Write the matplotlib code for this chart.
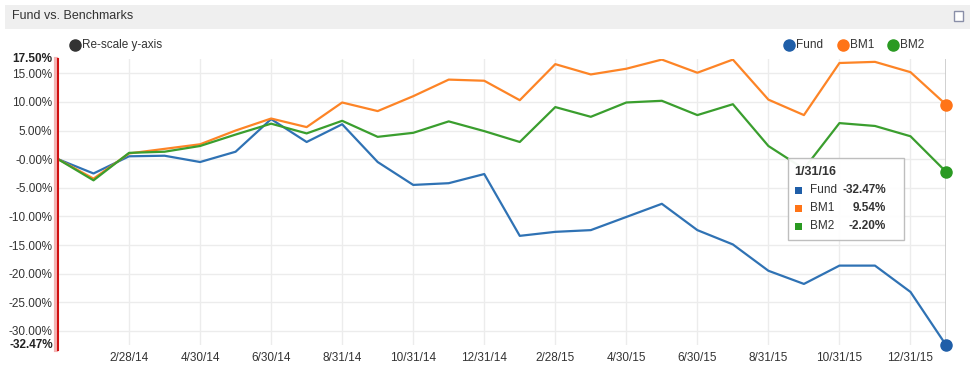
import matplotlib
matplotlib.use("Agg")
import matplotlib.pyplot as plt
from matplotlib.patches import Rectangle

plt.rcParams['font.family'] = ['Liberation Sans', 'DejaVu Sans']

dates = ['12/31/13', '1/31/14', '2/28/14', '3/31/14', '4/30/14', '5/31/14', '6/30/14',
         '7/31/14', '8/31/14', '9/30/14', '10/31/14', '11/30/14', '12/31/14',
         '1/31/15', '2/28/15', '3/31/15', '4/30/15', '5/31/15', '6/30/15',
         '7/31/15', '8/31/15', '9/30/15', '10/31/15', '11/30/15', '12/31/15', '1/31/16']
fund = [0.0, -2.5, 0.5, 0.6, -0.5, 1.3, 7.0, 3.0, 6.1, -0.5, -4.5, -4.2, -2.6,
        -13.4, -12.7, -12.4, -10.1, -7.8, -12.4, -14.9, -19.5, -21.8, -18.6, -18.6,
        -23.2, -32.47]
bm1 = [0.0, -3.4, 1.0, 1.8, 2.6, 5.0, 7.1, 5.6, 9.9, 8.4, 11.0, 13.9, 13.7,
       10.3, 16.6, 14.8, 15.8, 17.4, 15.1, 17.4, 10.4, 7.7, 16.8, 17.0, 15.2, 9.54]
bm2 = [0.0, -3.7, 1.1, 1.3, 2.3, 4.3, 6.2, 4.5, 6.7, 3.9, 4.6, 6.6, 4.9,
       3.0, 9.1, 7.4, 9.9, 10.2, 7.7, 9.6, 2.3, -1.7, 6.3, 5.8, 4.0, -2.20]
series = [('Fund', fund, '#2f72b4', '#1f5ea8'),
          ('BM1', bm1, '#fd8426', '#ff7417'),
          ('BM2', bm2, '#3a9e2e', '#2a9a22')]
y_ticks = [15, 10, 5, 0, -5, -10, -15, -20, -25, -30]
y_min, y_max = -32.47, 17.5

W, H = 975, 365
fig = plt.figure(figsize=(W / 100, H / 100), dpi=100)

def fx(px):
    return px / W

def fy(py):
    return 1 - py / H

# header bar
fig.patches.append(Rectangle((fx(5), fy(29)), fx(965), 24 / H, transform=fig.transFigure,
                             facecolor='#efefef', edgecolor='none'))
fig.text(fx(12), fy(16), 'Fund vs. Benchmarks', fontsize=9, color='#333333', va='center')
fig.patches.append(Rectangle((fx(954), fy(21)), fx(9), 10 / H, transform=fig.transFigure,
                             facecolor='white', edgecolor='#8a8fa8', lw=1))

ax = fig.add_axes([fx(58), fy(345), fx(946 - 58), (345 - 59) / H])
x = list(range(len(dates)))
for name, vals, lc, mc in series:
    ax.plot(x, vals, color=lc, lw=1.6, zorder=3)
    ax.plot(x[-1], vals[-1], 'o', color=mc, ms=8, zorder=4, clip_on=False)

ax.set_xlim(0, len(dates) - 1)
ax.set_ylim(y_min, y_max)
ax.set_yticks(y_ticks)
ax.set_yticklabels(['-0.00%' if v == 0 else '%.2f%%' % v for v in y_ticks])
xt = list(range(2, len(dates) - 1, 2))
ax.set_xticks(xt)
ax.set_xticklabels([dates[i] for i in xt])
ax.tick_params(length=0, labelsize=8.5, colors='#333333', pad=5)
ax.tick_params(axis='y', pad=4)
ax.grid(True, color='#ececec', lw=1)
ax.set_axisbelow(True)
for s in ax.spines.values():
    s.set_visible(False)
ax.axvline(len(dates) - 1, color='#c8c8c8', lw=1.2, zorder=2)

# bold extreme labels
ax.text(-0.006, y_max, '%.2f%%' % y_max, transform=ax.get_yaxis_transform(), ha='right',
        va='center', fontsize=8.5, fontweight='bold', color='#222222')
ax.text(-0.006, y_min, '%.2f%%' % y_min, transform=ax.get_yaxis_transform(), ha='right',
        va='center', fontsize=8.5, fontweight='bold', color='#222222')

# red axis line
fig.add_artist(plt.Line2D([fx(55.5), fx(55.5)], [fy(59), fy(350)], color='#f4b4b4', lw=3))
fig.add_artist(plt.Line2D([fx(57.5), fx(57.5)], [fy(59), fy(350)], color='#d01010', lw=1.5))

# re-scale control
fig.add_artist(plt.Line2D([fx(75)], [fy(45)], marker='o', ms=8, color='#333333'))
fig.text(fx(82), fy(45), 'Re-scale y-axis', fontsize=8.5, color='#333333', va='center')

# legend
lx = [789, 843, 893]
for (name, vals, lc, mc), px in zip(series, lx):
    fig.add_artist(plt.Line2D([fx(px)], [fy(45)], marker='o', ms=8, color=mc))
    fig.text(fx(px + 7), fy(45), name, fontsize=8.5, color='#333333', va='center')

# tooltip
fig.patches.append(Rectangle((fx(788), fy(240)), fx(116), 82 / H, transform=fig.transFigure,
                             facecolor='white', edgecolor='#bbbbbb', lw=1, alpha=0.95,
                             zorder=10))
fig.text(fx(794), fy(172), dates[-1], fontsize=9, fontweight='bold', color='#333333',
         va='center', zorder=11)
for i, (name, vals, lc, mc) in enumerate(series):
    yy = 190 + i * 18
    fig.patches.append(Rectangle((fx(795), fy(yy + 3.5)), fx(7), 7 / H,
                                 transform=fig.transFigure, facecolor=mc, edgecolor='none',
                                 zorder=11))
    fig.text(fx(810), fy(yy), name, fontsize=8.5, color='#333333', va='center', zorder=11)
    fig.text(fx(886), fy(yy), '%.2f%%' % vals[-1], fontsize=8.5, fontweight='bold',
             color='#333333', va='center', ha='right', zorder=11)

fig.savefig('out.png', dpi=100)
